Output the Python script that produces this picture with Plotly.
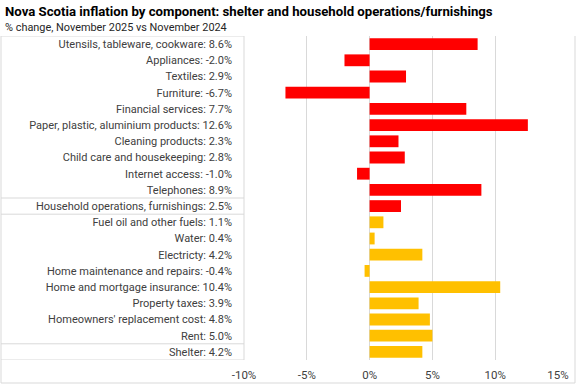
import plotly.graph_objects as go

categories = [
    "Utensils, tableware, cookware", "Appliances", "Textiles", "Furniture",
    "Financial services", "Paper, plastic, aluminium products", "Cleaning products",
    "Child care and housekeeping", "Internet access", "Telephones",
    "Household operations, furnishings", "Fuel oil and other fuels", "Water",
    "Electricty", "Home maintenance and repairs", "Home and mortgage insurance",
    "Property taxes", "Homeowners' replacement cost", "Rent", "Shelter",
]
values = [8.6, -2.0, 2.9, -6.7, 7.7, 12.6, 2.3, 2.8, -1.0, 8.9,
          2.5, 1.1, 0.4, 4.2, -0.4, 10.4, 3.9, 4.8, 5.0, 4.2]
groups = ["household"] * 11 + ["shelter"] * 9
group_colors = {"household": "#FF0000", "shelter": "#FFC000"}
x_ticks = [-10, -5, 0, 5, 10, 15]
x_tick_labels = ["-10%", "-5%", "0%", "5%", "10%", "15%"]
title = "Nova Scotia inflation by component: shelter and household operations/furnishings"
subtitle = "% change, November 2025 vs November 2024"

labels = [f"{c}: {v:.1f}%" for c, v in zip(categories, values)]
FONT = "Roboto, sans-serif"
GRID = "#D9D9D9"

fig = go.Figure(go.Bar(
    x=values, y=list(range(len(categories))), orientation="h",
    marker=dict(color=[group_colors[g] for g in groups], line=dict(width=0)),
    hoverinfo="skip",
))

W, H = 577, 385
L, R, T, B = 244, 19, 36, 25
pw, ph = W - L - R, H - T - B


def px_x(p):
    return (p - L) / pw


def px_y(p):
    return (H - B - p) / ph


fig.update_layout(
    width=W, height=H, margin=dict(l=L, r=R, t=T, b=B, autoexpand=False),
    paper_bgcolor="white", plot_bgcolor="white", showlegend=False,
    bargap=0.27,
    font=dict(family=FONT, size=11, color="#404040"),
    xaxis=dict(range=[-10, 15], tickvals=x_ticks, ticktext=x_tick_labels,
               showgrid=True, gridcolor=GRID, gridwidth=1, zeroline=True,
               zerolinecolor=GRID, zerolinewidth=1, showline=False, ticks="",
               automargin=False, ticklabelstandoff=6,
               tickfont=dict(size=11.5, color="#404040"), fixedrange=True),
    yaxis=dict(range=[len(categories) - 0.5, -0.5], tickvals=list(range(len(categories))),
               ticktext=labels, showgrid=False, zeroline=False, showline=False, ticks="",
               automargin=False, ticklabelstandoff=11,
               tickfont=dict(size=11, color="#404040"), fixedrange=True),
)

shapes = []
line = dict(color=GRID, width=1)
# outer frame
x0, x1 = px_x(1), px_x(575)
ytop, ybot = px_y(36), px_y(383)
shapes.append(dict(type="line", xref="paper", yref="paper", x0=x0, x1=x0, y0=ybot, y1=ytop, line=line))
shapes.append(dict(type="line", xref="paper", yref="paper", x0=x1, x1=x1, y0=ybot, y1=ytop, line=line))
shapes.append(dict(type="line", xref="paper", yref="paper", x0=x0, x1=x1, y0=ybot, y1=ybot, line=line))
# label box
shapes.append(dict(type="line", xref="paper", yref="paper", x0=0, x1=0, y0=0, y1=1, line=line))
for yb in [-0.5, 9.5, 10.5, 18.5, 19.5]:
    shapes.append(dict(type="line", xref="paper", yref="y", x0=x0, x1=0, y0=yb, y1=yb, line=line))
fig.update_layout(shapes=shapes)

fig.add_annotation(text=f"<b>{title}</b>", xref="paper", yref="paper", x=px_x(3), y=px_y(2),
                   xanchor="left", yanchor="top", showarrow=False,
                   font=dict(family=FONT, size=13.2, color="#000000"))
fig.add_annotation(text=subtitle, xref="paper", yref="paper", x=px_x(3), y=px_y(19),
                   xanchor="left", yanchor="top", showarrow=False,
                   font=dict(family=FONT, size=10.9, color="#262626"))

fig.write_html("out.html", config={"displayModeBar": False},
               post_script="document.body.style.margin='0';document.body.style.overflow='hidden';")
